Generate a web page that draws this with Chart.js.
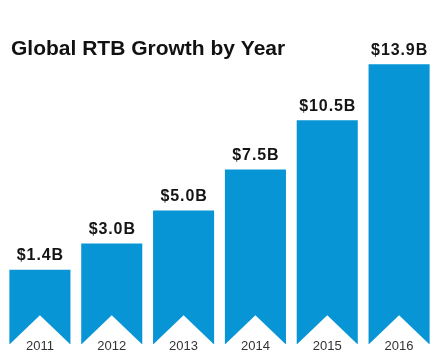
<!DOCTYPE html>
<html>
<head>
<meta charset="utf-8">
<script src="https://cdn.jsdelivr.net/npm/chart.js@4"></script>
<style>
    html, body { margin: 0; padding: 0; background: #fff; }
    #wrap { width: 446px; height: 364px; position: relative; }
</style>
</head>
<body>
<div id="wrap"><canvas id="rtbChart"></canvas></div>
<script>
// Data
const years = ['2011', '2012', '2013', '2014', '2015', '2016'];
const revenue = [1.4, 3.0, 5.0, 7.5, 10.5, 13.9];   // $ billions
const valueLabels = ['$1.4B', '$3.0B', '$5.0B', '$7.5B', '$10.5B', '$13.9B'];
const chartTitle = 'Global RTB Growth by Year';

// the ribbons hang below zero (the notched tail), so the axis starts lower
const Y_MIN = -3.12;
const Y_MAX = 14.1;

const BLUE = '#0795d5';

// Draws the ribbon notch, year inside the tail, value above, and the title
const ribbonPlugin = {
    id: 'ribbon',
    afterDatasetsDraw(chart) {
        const ctx = chart.ctx;
        const meta = chart.getDatasetMeta(0);
        ctx.save();

        meta.data.forEach((bar, i) => {
            const half = bar.width / 2;
            const depth = bar.width * 0.47;

            // white notch cut out of the bottom
            ctx.fillStyle = '#ffffff';
            ctx.beginPath();
            ctx.moveTo(bar.x - half - 0.5, bar.base + 1);
            ctx.lineTo(bar.x, bar.base - depth);
            ctx.lineTo(bar.x + half + 0.5, bar.base + 1);
            ctx.closePath();
            ctx.fill();

            // year
            ctx.fillStyle = '#333333';
            ctx.font = '13px "Liberation Sans", Arial, sans-serif';
            ctx.textAlign = 'center';
            ctx.textBaseline = 'middle';
            ctx.fillText(years[i], bar.x, bar.base + 2);

            // value
            ctx.fillStyle = '#141414';
            ctx.font = 'bold 16px "Liberation Sans", Arial, sans-serif';
            ctx.letterSpacing = '0.9px';
            ctx.fillText(valueLabels[i], bar.x + 0.5, bar.y - 14);
            ctx.letterSpacing = '0px';
        });

        // title
        ctx.fillStyle = '#111111';
        ctx.font = 'bold 21px "Liberation Sans", Arial, sans-serif';
        ctx.textAlign = 'left';
        ctx.textBaseline = 'middle';
        ctx.fillText(chartTitle, 11, 49);

        ctx.restore();
    }
};

new Chart(document.getElementById('rtbChart'), {
    type: 'bar',
    data: {
        labels: years,
        datasets: [{
            data: revenue,
            base: Y_MIN,
            backgroundColor: BLUE,
            borderWidth: 0,
            barPercentage: 0.85,
            categoryPercentage: 1.0,
            clip: false
        }]
    },
    options: {
        responsive: true,
        maintainAspectRatio: false,
        animation: false,
        layout: { padding: { top: 61, left: 4, right: 11, bottom: 20 } },
        plugins: {
            legend: { display: false },
            tooltip: { enabled: false }
        },
        scales: {
            x: { display: false, offset: true },
            y: { display: false, min: Y_MIN, max: Y_MAX }
        }
    },
    plugins: [ribbonPlugin]
});
</script>
</body>
</html>
